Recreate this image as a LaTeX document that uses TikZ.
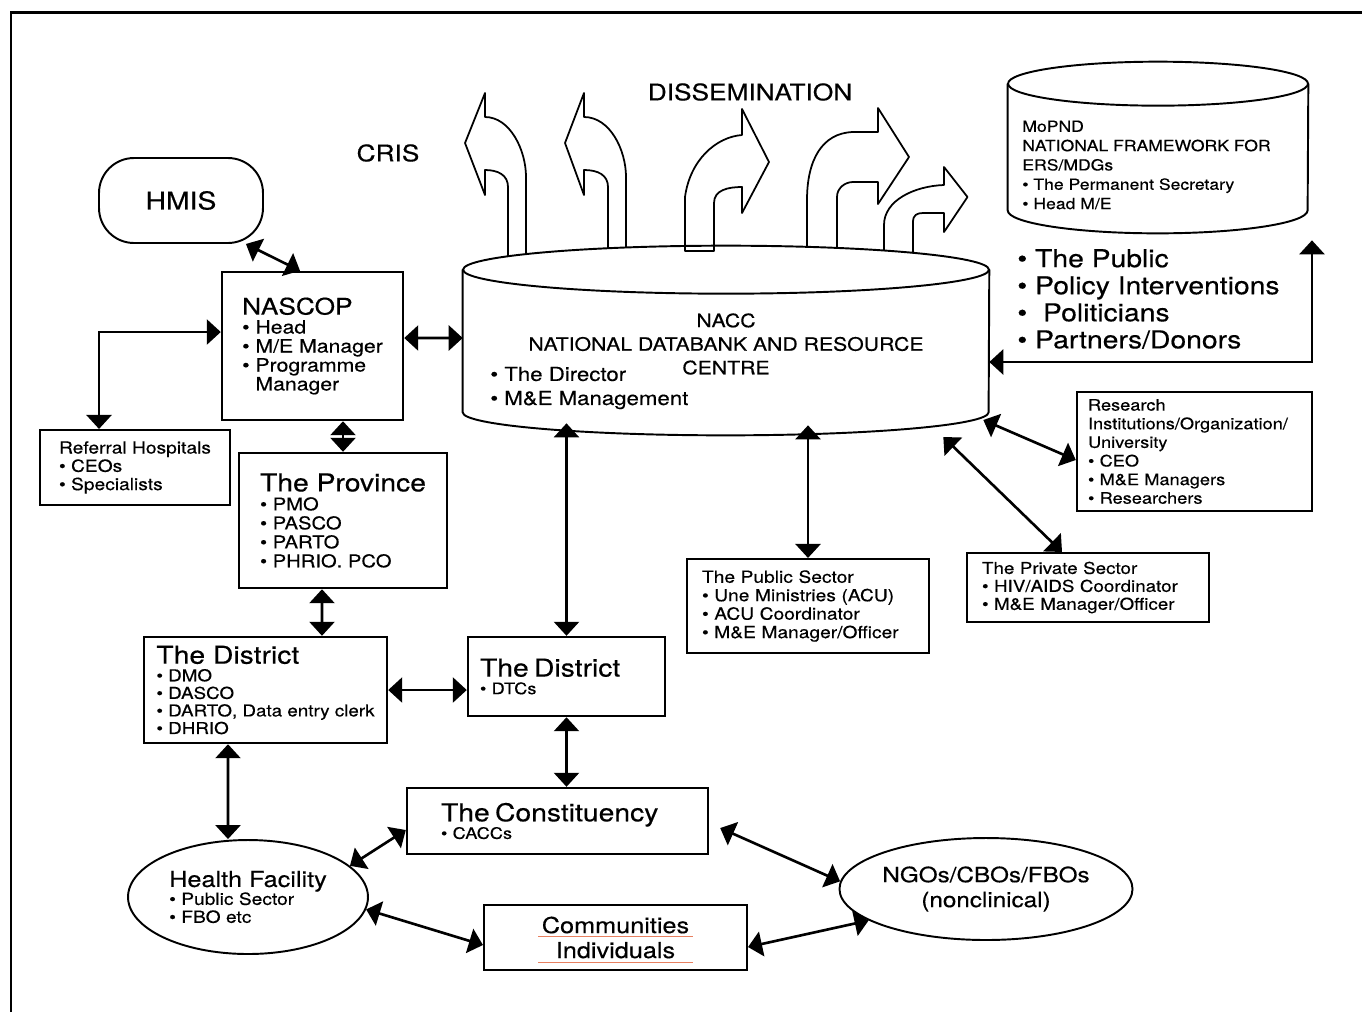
\documentclass[tikz,border=0pt]{standalone}
\usepackage{fontspec}
\setmainfont{TeX Gyre Heros}[FakeStretch=1.15, FakeBold=0.4]
\usepackage{tikz}
\usetikzlibrary{shapes.geometric, arrows.meta}
\definecolor{lineOrange}{RGB}{232,128,96}

\begin{document}
\begin{tikzpicture}[x=0.02cm, y=-0.02cm,
  box/.style={rectangle, draw, line width=1.4pt, align=left, inner sep=0pt},
  oval/.style={ellipse, draw, line width=1.1pt, inner sep=0pt},
  drumbody/.style={rectangle, inner sep=0pt},
  drumline/.style={line width=1.1pt},
  flow/.style={draw, line width=1pt, fill=white, line join=round},
  link/.style={{Triangle[length=0.28cm,width=0.5cm]}-{Triangle[length=0.28cm,width=0.5cm]},
               line width=1.5pt},
  pageframe/.style={line width=1.7pt},
]
  \useasboundingbox (0,0) rectangle (1362,1012);
  \draw[pageframe] (11,1012) -- (11,12) -- (1362,12);

  % dissemination arrows
  \draw[flow] (508,256.6) -- (508,187) .. controls (508,175) and (498,170) .. (485,170)
    -- (485,195) -- (465,143) -- (485,93) -- (485,117)
    .. controls (510,117) and (526,150) .. (526,177) -- (526,254.4);
  \draw[flow] (608,248.5) -- (608,187) .. controls (608,175) and (598,170) .. (584,170)
    -- (584,195) -- (565,143) -- (584,93) -- (584,117)
    .. controls (610,117) and (626,150) .. (626,177) -- (626,247.8);
  \draw[flow] (714,251) -- (714,203) .. controls (714,190) and (728,187) .. (742,187)
    -- (742,213) -- (769,162) -- (742,109) -- (742,135)
    .. controls (716,137) and (690,160) .. (685,197) -- (685,251) -- cycle;
  \draw[flow] (837,248.2) -- (837,197) .. controls (837,188) and (845,182) .. (853,182)
    -- (878,182) -- (878,204) -- (909,157) -- (878,108) -- (878,132) -- (853,132)
    .. controls (822,133) and (807,160) .. (807,200) -- (807,247.2);
  \draw[flow] (913,253.1) -- (913,222) .. controls (913,215) and (917,213) .. (923,213)
    -- (944,213) -- (944,232) -- (967.5,197) -- (944,167) -- (944,185)
    .. controls (915,186) and (884,200) .. (884,225) -- (884,250.8);

  \node[font=\fontsize{13}{15}\selectfont] (dissem) at (750,92) {DISSEMINATION};
  \node[font=\fontsize{13}{15}\selectfont] (cris) at (388,153) {CRIS};

  % databanks
  \node[drumbody, minimum width=10.52cm, minimum height=2.84cm] (nacc) at (726,341) {};
  \draw[drumline] (nacc.north west) -- (nacc.south west)
    arc[start angle=180, end angle=360, x radius=5.26cm, y radius=0.46cm] -- (nacc.north east);
  \draw[drumline] (nacc.north) ellipse [x radius=5.26cm, y radius=0.48cm];
  \node[align=center, font=\fontsize{10.5}{13.4}\selectfont] (nacctitle) at (726,344)
    {NACC\\NATIONAL DATABANK AND RESOURCE\\CENTRE};
  \node[align=left, anchor=west, inner sep=0pt, font=\fontsize{11}{13.7}\selectfont] (naccstaff)
    at (490,388) {\textbullet~The Director\\\textbullet~M\&E Management};

  \node[drumbody, minimum width=6cm, minimum height=2.52cm] (mopnd) at (1158,147) {};
  \draw[drumline] (mopnd.north west) -- (mopnd.south west)
    arc[start angle=180, end angle=360, x radius=3cm, y radius=0.46cm] -- (mopnd.north east);
  \draw[drumline] (mopnd.north) ellipse [x radius=3cm, y radius=0.44cm];
  \node[align=left, anchor=west, inner sep=0pt, font=\fontsize{8.7}{11}\selectfont] (mopndtext)
    at (1022,165) {MoPND\\NATIONAL FRAMEWORK FOR\\ERS/MDGs\\
    \textbullet~The Permanent Secretary\\\textbullet~Head M/E};
  \node[align=left, anchor=west, inner sep=0pt, font=\fontsize{14}{15.4}\selectfont] (audience)
    at (1017,299) {\textbullet~The Public\\\textbullet~Policy Interventions\\
    \textbullet~~Politicians\\\textbullet~Partners/Donors};

  % left hierarchy
  \node[draw, rounded corners=0.7cm, line width=1.1pt, minimum width=3.28cm, minimum height=1.7cm,
        font=\fontsize{14}{16}\selectfont] (hmis) at (181,200.5) {HMIS};
  \node[box, minimum width=3.62cm, minimum height=2.96cm, font=\fontsize{10.5}{10.8}\selectfont]
    (nascop) at (312.5,346) {{\fontsize{13}{14}\selectfont NASCOP}\\\textbullet~Head\\
    \textbullet~M/E Manager\\\textbullet~Programme\\\phantom{\textbullet~}Manager};
  \node[box, line width=1.2pt, minimum width=3.8cm, minimum height=1.5cm,
        font=\fontsize{9.5}{10.4}\selectfont] (referral) at (135,467.5)
    {Referral Hospitals\\\textbullet~CEOs\\\textbullet~Specialists};
  \node[box, minimum width=4.16cm, minimum height=2.7cm, font=\fontsize{10}{10.8}\selectfont]
    (province) at (343,520.5) {{\fontsize{14}{15}\selectfont The Province}\\\textbullet~PMO\\
    \textbullet~PASCO\\\textbullet~PARTO\\\textbullet~PHRIO. PCO};
  \node[box, minimum width=4.86cm, minimum height=2.12cm, font=\fontsize{9.3}{10}\selectfont]
    (distleft) at (265.5,690) {{\fontsize{14}{15}\selectfont The District}\\\textbullet~DMO\\
    \textbullet~DASCO\\\textbullet~DARTO, Data entry clerk\\\textbullet~DHRIO};
  \node[box, minimum width=3.94cm, minimum height=1.58cm, text width=3.46cm, inner xsep=0.24cm,
        font=\fontsize{9}{10}\selectfont]
    (distmid) at (566.5,676.5) {{\fontsize{14}{15}\selectfont The District}\\\textbullet~DTCs};
  \node[box, minimum width=6.02cm, minimum height=1.32cm, text width=4.66cm, inner xsep=0.68cm,
        font=\fontsize{9}{10}\selectfont]
    (constit) at (557.5,821) {{\fontsize{14}{15}\selectfont The Constituency}\\\textbullet~CACCs};
  \node[box, line width=1.2pt, minimum width=5.26cm, minimum height=1.3cm, align=center,
        font=\fontsize{12.5}{14.2}\selectfont] (comm) at (615.5,937.5) {Communities\\Individuals};
  \draw[lineOrange, line width=0.8pt] ([xshift=-1.55cm,yshift=0.02cm]comm.center)
    -- ([xshift=1.55cm,yshift=0.02cm]comm.center);
  \draw[lineOrange, line width=0.8pt] ([xshift=-1.55cm,yshift=-0.5cm]comm.center)
    -- ([xshift=1.55cm,yshift=-0.5cm]comm.center);
  \node[oval, minimum width=4.8cm, minimum height=2.28cm, align=left,
        font=\fontsize{9.5}{10.2}\selectfont] (health) at (248,897)
    {{\fontsize{12.5}{14}\selectfont Health Facility}\\\textbullet~Public Sector\\\textbullet~FBO etc};
  \node[oval, minimum width=5.56cm, minimum height=2.04cm, align=center,
        font=\fontsize{12}{14.2}\selectfont] (ngo) at (986,889) {NGOs/CBOs/FBOs\\(nonclinical)};

  % right-hand partners
  \node[box, line width=1.2pt, minimum width=4.84cm, minimum height=1.88cm, text width=4.24cm,
        inner xsep=0.3cm, font=\fontsize{9.5}{10.5}\selectfont] (public) at (808,606)
    {The Public Sector\\\textbullet~Une Ministries (ACU)\\\textbullet~ACU Coordinator\\
    \textbullet~M\&E Manager/Officer};
  \node[box, minimum width=4.7cm, minimum height=2.38cm, text width=4.26cm, inner xsep=0.22cm,
        font=\fontsize{9}{10.6}\selectfont]
    (research) at (1194.5,451.5) {Research\\Institutions/Organization/\\University\\
    \textbullet~CEO\\\textbullet~M\&E Managers\\\textbullet~Researchers};
  \node[box, line width=1.2pt, minimum width=4.84cm, minimum height=1.38cm, text width=4.24cm,
        inner xsep=0.3cm, font=\fontsize{9.3}{10.2}\selectfont] (private) at (1088,587.5)
    {The Private Sector\\\textbullet~HIV/AIDS Coordinator\\\textbullet~M\&E Manager/Officer};

  % connectors
  \draw[link] ([xshift=-0.36cm]hmis.south east) -- ([xshift=-0.25cm]nascop.north);
  \draw[link] ([xshift=-0.72cm]referral.north) |- ([yshift=0.28cm]nascop.west);
  \draw[link] ([yshift=0.16cm]nascop.east) -- ([yshift=0.06cm]nacc.west);
  \draw[link] (province.north) -- (province.north |- nascop.south);
  \draw[link] ([xshift=-0.42cm]province.south) -- ([xshift=1.13cm]distleft.north);
  \draw[link] (distleft.east) -- (distleft.east -| distmid.west);
  \draw[link, shorten >=0.22cm] (distmid.north) -- (distmid.north |- nacc.south);
  \draw[link, shorten >=0.26cm] (public.north) -- (public.north |- nacc.south);
  \draw[link] ([xshift=-0.75cm]distleft.south) -- ([xshift=-0.4cm]health.north);
  \draw[link] (distmid.south) -- (distmid.south |- constit.north);
  \draw[link] (health.17) -- ([yshift=-0.18cm]constit.west);
  \draw[link] (health.-6) -- ([yshift=-0.15cm]comm.west);
  \draw[link] ([xshift=0.22cm,yshift=-0.14cm]constit.east) -- (ngo.177);
  \draw[link] ([yshift=-0.19cm]comm.east) -- (ngo.195);
  \draw[link] ([xshift=-0.12cm,yshift=-1.58cm]nacc.east) -- ([yshift=-0.17cm]research.west);
  \draw[link] ([xshift=-0.92cm,yshift=-1.92cm]nacc.east) -- ([xshift=-0.52cm]private.north);
  \draw[link] ([yshift=-0.42cm]nacc.east) -| ([xshift=3.08cm,yshift=-0.6cm]mopnd.south);
\end{tikzpicture}
\end{document}
